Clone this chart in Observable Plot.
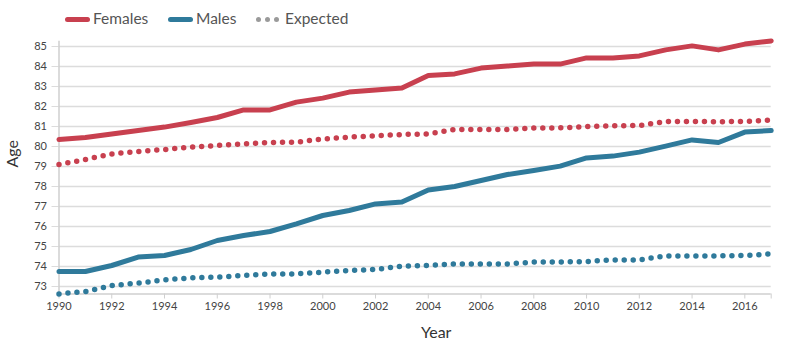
<!DOCTYPE html>
<html>
<head>
<meta charset="utf-8">
<script src="https://cdn.jsdelivr.net/npm/d3@7"></script>
<script src="https://cdn.jsdelivr.net/npm/@observablehq/plot@0.6"></script>
<style>
  html, body { margin: 0; padding: 0; background: #fff; }
  #wrap { position: relative; width: 800px; height: 346px; overflow: hidden; font-family: Lato, "Open Sans", sans-serif; }
  #legend { position: absolute; left: 0; top: 0; height: 36px; width: 800px; }
  .item { position: absolute; top: 8px; font-size: 15.5px; color: #555; line-height: 20px; white-space: nowrap; }
  .sw { display: inline-block; width: 25px; height: 5px; border-radius: 3px; vertical-align: middle; margin-right: 3px; position: relative; top: -1px; }
  .dot { display: inline-block; width: 5px; height: 5px; border-radius: 50%; background: #9a9a9a; margin-right: 4px; vertical-align: middle; position: relative; top: -1px; }
  #chart { position: absolute; left: 0; top: 0; }
</style>
</head>
<body>
<div id="wrap">
  <div id="chart"></div>
  <div id="legend"></div>
</div>
<script>
const years = d3.range(1990, 2018);
const females = [80.35, 80.45, 80.63, 80.8, 80.97, 81.2, 81.45, 81.83, 81.83, 82.22, 82.42, 82.72, 82.83, 82.92, 83.55, 83.63, 83.92, 84.02, 84.12, 84.12, 84.43, 84.43, 84.53, 84.83, 85.03, 84.83, 85.12, 85.28];
const femalesExpected = [79.1, 79.35, 79.63, 79.75, 79.85, 79.97, 80.05, 80.13, 80.2, 80.22, 80.37, 80.47, 80.53, 80.6, 80.63, 80.85, 80.85, 80.85, 80.92, 80.93, 81.0, 81.03, 81.05, 81.25, 81.25, 81.24, 81.25, 81.33];
const males = [73.75, 73.75, 74.05, 74.47, 74.55, 74.85, 75.3, 75.55, 75.75, 76.13, 76.55, 76.8, 77.13, 77.22, 77.83, 78.0, 78.3, 78.6, 78.8, 79.02, 79.43, 79.52, 79.72, 80.02, 80.33, 80.2, 80.72, 80.8];
const malesExpected = [72.63, 72.75, 73.05, 73.17, 73.33, 73.43, 73.47, 73.55, 73.63, 73.63, 73.72, 73.8, 73.85, 74.02, 74.05, 74.13, 74.13, 74.13, 74.22, 74.22, 74.25, 74.33, 74.33, 74.53, 74.53, 74.53, 74.55, 74.63];
const seriesNames = ["Females", "Males", "Expected"];
const seriesColors = ["#c8404f", "#2f7a9b", "#9a9a9a"];
const yTicks = d3.range(73, 86);
const xTicks = d3.range(1990, 2017, 2);
const xDomain = [1990, 2017];
const yDomain = [72.625, 85.265];

const rows = (vals, key) => years.map((yr, i) => ({year: yr, value: vals[i], key}));
const fData = rows(females, "Females");
const feData = rows(femalesExpected, "FemalesExpected");
const mData = rows(males, "Males");
const meData = rows(malesExpected, "MalesExpected");

const red = seriesColors[0], blue = seriesColors[1];

const chart = Plot.plot({
  width: 800,
  height: 346,
  marginTop: 40.7,
  marginBottom: 52.5,
  marginLeft: 58.5,
  marginRight: 29.3,
  style: {fontFamily: "Lato, 'Open Sans', sans-serif", background: "transparent"},
  x: {domain: xDomain},
  y: {domain: yDomain},
  marks: [
    Plot.gridY(yTicks, {stroke: "#dcdcdc", strokeOpacity: 1, strokeWidth: 1.5}),
    Plot.axisY(yTicks, {tickSize: 7, tickPadding: 5, stroke: "#dcdcdc", strokeOpacity: 1, fontSize: 11, fill: "#444", label: null}),
    Plot.axisX([...xTicks, xDomain[1]], {tickSize: 5, tickPadding: 3, stroke: "#cfcfcf", strokeOpacity: 1, fontSize: 11, fill: "#444", tickFormat: d => d === xDomain[1] ? "" : String(d), label: null}),
    Plot.ruleX([xDomain[0]], {stroke: "#cfcfcf", strokeWidth: 1.5}),
    Plot.ruleY([yDomain[0]], {stroke: "#cfcfcf", strokeWidth: 1.5}),
    Plot.text(["Age"], {frameAnchor: "left", dx: -46, rotate: -90, fontSize: 16, fill: "#333", dy: 0}),
    Plot.text(["Year"], {x: 2004.3, frameAnchor: "bottom", dy: 44, fontSize: 16, fill: "#333"}),
    Plot.line(feData, {x: "year", y: "value", stroke: red, strokeWidth: 5.5, strokeDasharray: "0 9", strokeLinecap: "round"}),
    Plot.line(meData, {x: "year", y: "value", stroke: blue, strokeWidth: 5.5, strokeDasharray: "0 9", strokeLinecap: "round"}),
    Plot.line(fData, {x: "year", y: "value", stroke: red, strokeWidth: 5, strokeLinecap: "round", strokeLinejoin: "round"}),
    Plot.line(mData, {x: "year", y: "value", stroke: blue, strokeWidth: 5, strokeLinecap: "round", strokeLinejoin: "round"})
  ]
});
document.getElementById("chart").appendChild(chart);

const legend = document.getElementById("legend");
const lefts = [65, 168, 256];
seriesNames.forEach((name, i) => {
  const it = document.createElement("div");
  it.className = "item";
  it.style.left = lefts[i] + "px";
  if (i < 2) {
    const sw = document.createElement("span");
    sw.className = "sw";
    sw.style.background = seriesColors[i];
    it.appendChild(sw);
  } else {
    for (let k = 0; k < 3; k++) {
      const d = document.createElement("span");
      d.className = "dot";
      d.style.background = seriesColors[i];
      it.appendChild(d);
    }
    it.lastChild.style.marginRight = "6px";
  }
  it.appendChild(document.createTextNode(name));
  legend.appendChild(it);
});
</script>
</body>
</html>
